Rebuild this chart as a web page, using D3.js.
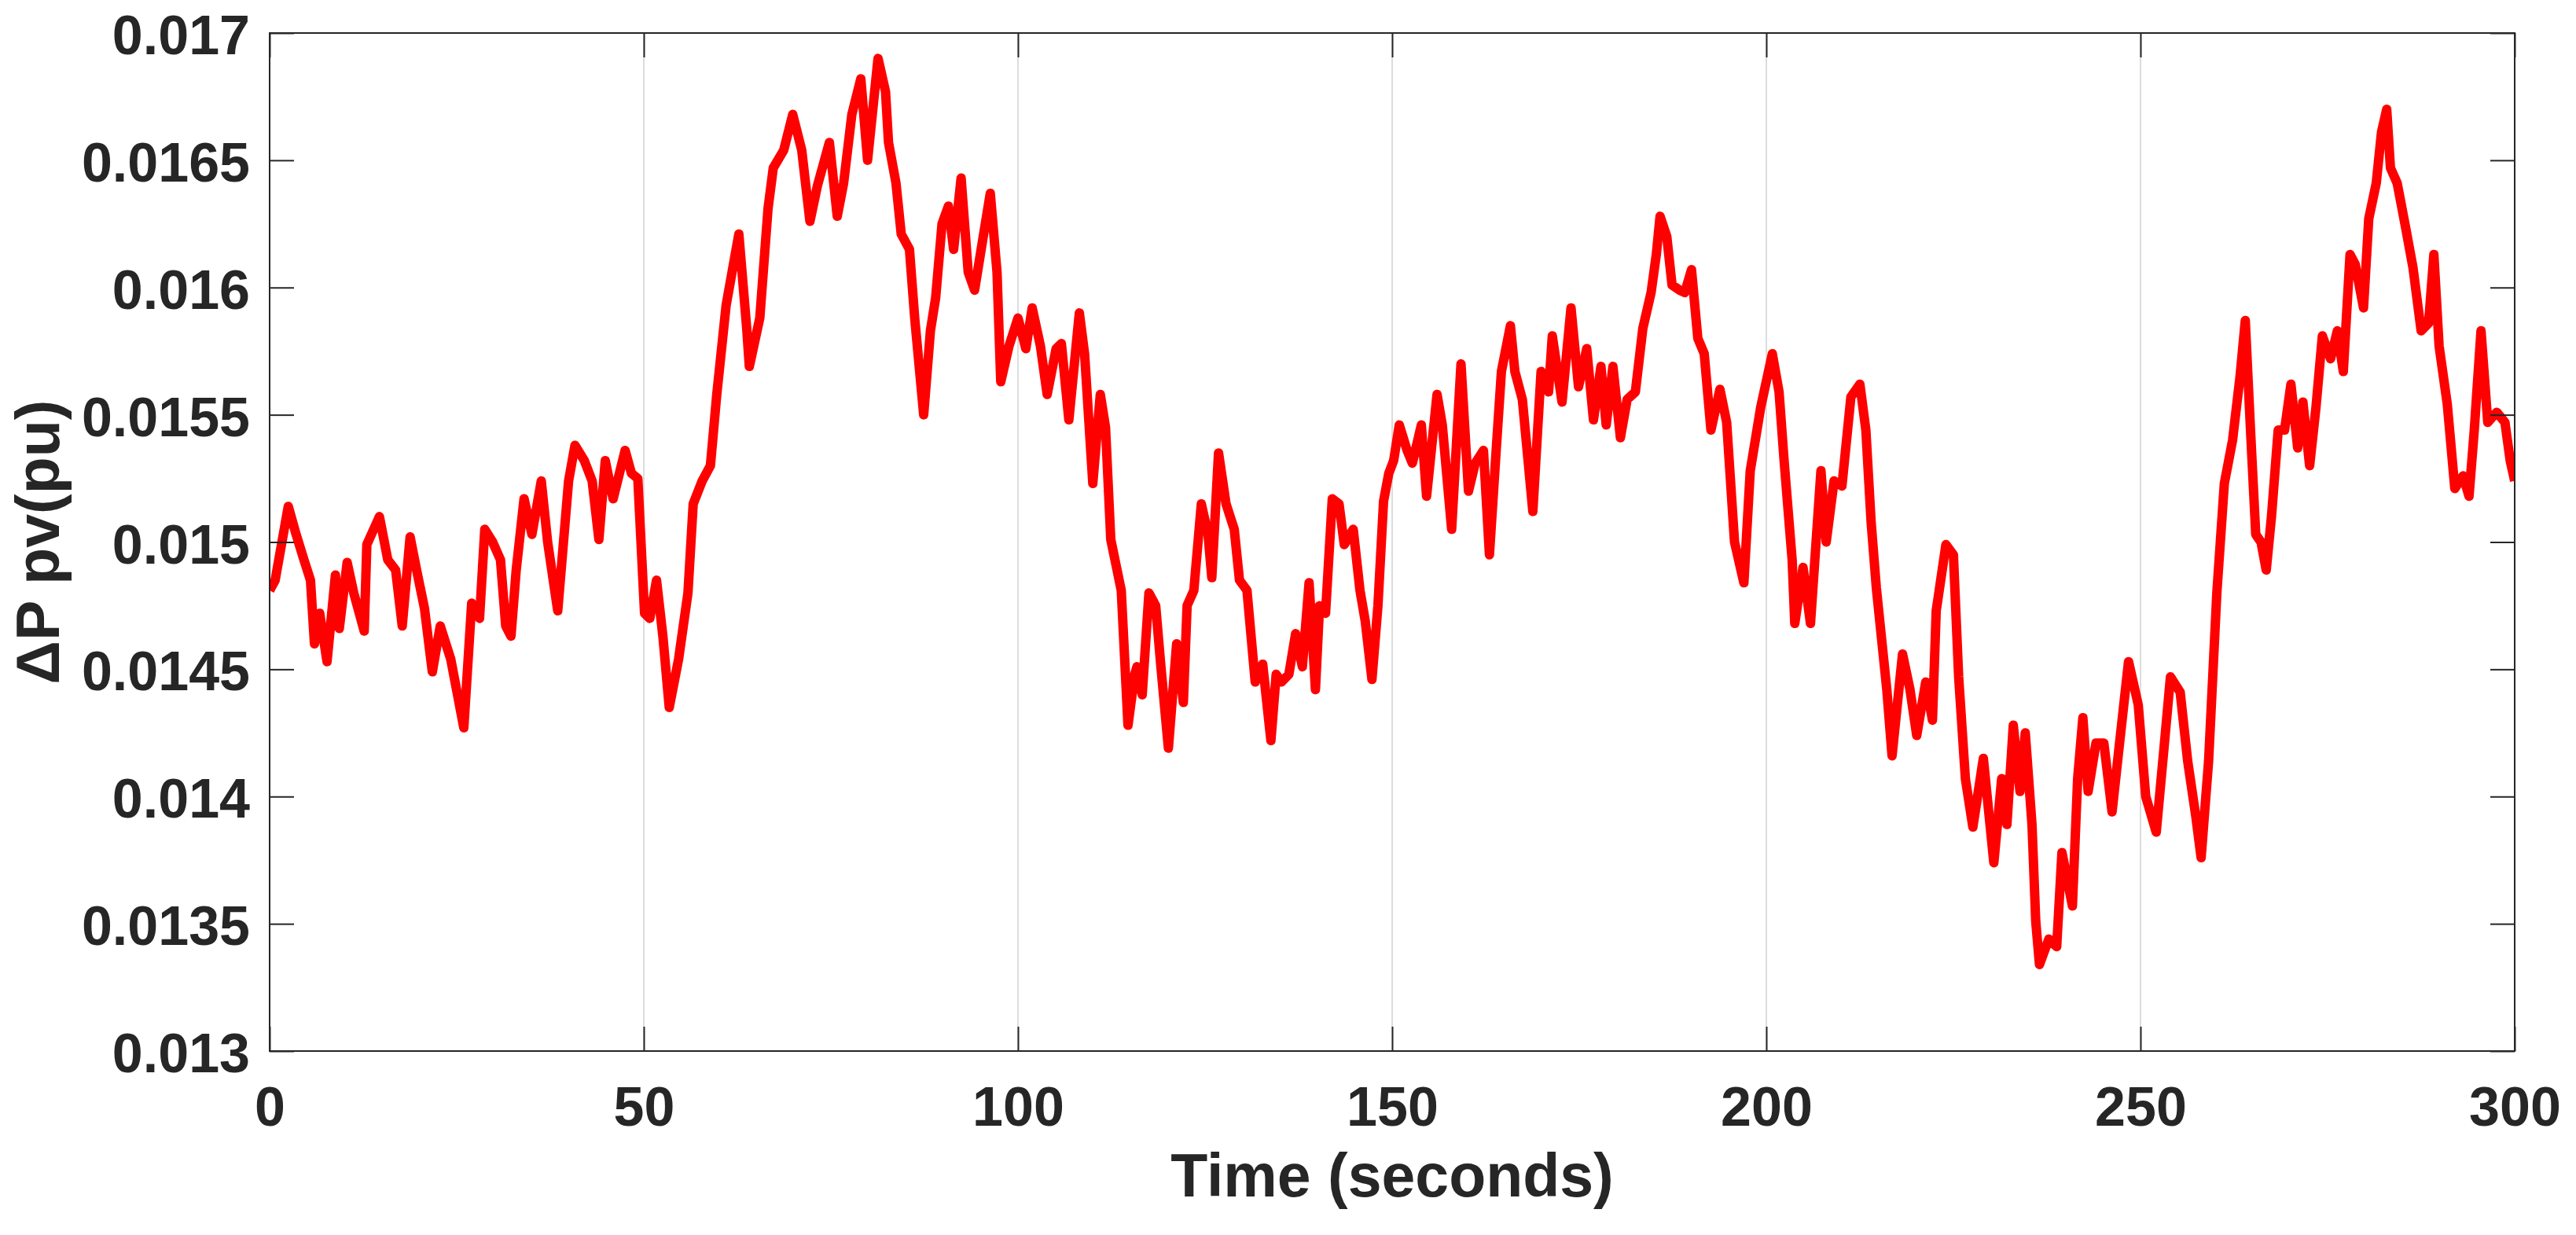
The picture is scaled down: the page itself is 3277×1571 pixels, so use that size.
<!DOCTYPE html>
<html>
<head>
<meta charset="utf-8">
<script src="https://cdn.jsdelivr.net/npm/d3@7"></script>
<style>
  html, body { margin: 0; padding: 0; background: #fff; }
  svg { display: block; }
  text { font-family: "Liberation Sans", Arial, sans-serif; font-weight: bold; fill: #262626; }
</style>
</head>
<body>
<div id="chart"></div>
<script>
// values (seconds, pu)
var time = [
  0, 0.74, 2.49, 3.54, 4.59, 5.46, 5.99, 6.69, 7.67, 8.79, 9.31, 10.36, 11.24, 12.64, 12.99, 14.67, 15.79, 16.84, 17.72, 18.77,
  19.64, 20.69, 21.74, 22.8, 24.2, 25.95, 27, 28.05, 28.75, 29.8, 30.85, 31.55, 32.25, 32.95, 34, 35.05, 36.3, 37.15, 38.5, 39.95,
  40.8, 42.05, 43.1, 44, 44.85, 45.9, 47.5, 48.35, 49.2, 50.1, 50.8, 51.7, 52.55, 53.4, 54.65, 55.9, 56.6, 57.8, 58.9, 59.75,
  61, 62.7, 63.75, 64.1, 65.5, 66.6, 67.3, 68.7, 69.9, 71.1, 72.2, 73.2, 74.8, 75.85, 76.7, 77.8, 79, 79.9, 81.3, 82.3,
  82.7, 83.7, 84.4, 85.5, 86.2, 87.4, 88.3, 89, 89.85, 90.7, 91.4, 92.4, 93.35, 94.2, 95.3, 96.3, 97.2, 97.7, 98.8, 100,
  101.05, 101.9, 103, 103.9, 105.1, 105.8, 106.8, 108.2, 108.9, 110, 111, 111.7, 112.4, 113.1, 113.8, 114.7, 115.6, 115.9, 116.6, 117.5,
  118.4, 119.1, 120.1, 121.2, 122.1, 122.6, 123.5, 124.5, 125.4, 125.9, 126.8, 127.8, 128.9, 129.6, 130.6, 131.7, 132.7, 133.8, 134.5, 135.2,
  136.2, 137.1, 138, 138.9, 139.75, 140.3, 141.1, 142, 142.9, 143.6, 144.8, 145.7, 146.4, 147.3, 148.1, 148.85, 149.55, 150.2, 150.95, 152,
  152.7, 153.9, 154.6, 156, 156.7, 157.95, 159.2, 160.2, 161.1, 162.2, 163, 163.9, 164.6, 165.8, 166.4, 167.4, 168.8, 169.9, 170.9, 171.4,
  172.7, 173.9, 174.9, 176, 176.9, 177.9, 178.6, 179.5, 180.5, 181.4, 182.5, 183.5, 184.6, 185.3, 185.8, 186.7, 187.4, 188.4, 189.1, 190,
  190.85, 191.7, 192.6, 193.8, 194.7, 195.75, 197, 197.85, 199.25, 200.8, 201.7, 202.4, 203.45, 203.8, 204.9, 205.9, 207.3, 208, 209.05, 210.1,
  211.3, 212.5, 213.3, 214, 214.7, 215.4, 216.1, 216.8, 218.2, 219.2, 220.1, 221.3, 222.2, 222.7, 224, 225, 225.7, 226.6, 227.6, 229,
  230.4, 231.45, 232.15, 233, 233.9, 234.6, 235.5, 236, 236.5, 237.75, 238.8, 239.5, 240.9, 241.6, 242.3, 243, 244.05, 245.1, 246.2, 247.2,
  248.4, 249.7, 250.7, 252.1, 253.2, 254, 255.3, 256.3, 257.4, 258.1, 259.1, 260.2, 261.2, 262.3, 263.3, 264, 264.7, 265.4, 266.1, 266.8,
  267.5, 268.4, 269.25, 270.1, 271, 271.7, 272.6, 273.45, 274.3, 275.4, 276.3, 277.1, 278, 278.7, 279.8, 280.5, 281.5, 282.2, 282.9, 283.4,
  284.3, 285.4, 286.4, 287.5, 288.5, 289.2, 289.9, 291, 292, 293.1, 293.9, 294.6, 295.5, 296.4, 297.6, 298.7, 299.4, 300
];
var dP = [
  0.01481, 0.01485, 0.01514, 0.01503, 0.01493, 0.01485, 0.0146, 0.01472, 0.01453, 0.01487, 0.01466, 0.01492, 0.0148, 0.01465, 0.01499, 0.0151, 0.01493, 0.01489, 0.01467, 0.01502,
  0.01489, 0.01474, 0.01449, 0.01467, 0.01454, 0.01427, 0.01476, 0.0147, 0.01505, 0.015, 0.01493, 0.01467, 0.01463, 0.01489, 0.01517, 0.01503, 0.01524, 0.015, 0.01473, 0.01524,
  0.01538, 0.01532, 0.01524, 0.01501, 0.01532, 0.01517, 0.01536, 0.01527, 0.01525, 0.01472, 0.0147, 0.01485, 0.01463, 0.01435, 0.01454, 0.0148, 0.01515, 0.01524, 0.0153, 0.01558,
  0.01593, 0.01621, 0.01584, 0.01569, 0.01588, 0.01631, 0.01647, 0.01654, 0.01668, 0.01654, 0.01626, 0.0164, 0.01657, 0.01628, 0.01641, 0.01668, 0.01682, 0.0165, 0.0169, 0.01677,
  0.01657, 0.01641, 0.01621, 0.01615, 0.01588, 0.0155, 0.01583, 0.01596, 0.01625, 0.01632, 0.01615, 0.01643, 0.01606, 0.01599, 0.01619, 0.01637, 0.01606, 0.01563, 0.01577, 0.01588,
  0.01576, 0.01592, 0.01577, 0.01558, 0.01576, 0.01578, 0.01548, 0.0159, 0.01574, 0.01523, 0.01558, 0.01545, 0.01501, 0.01491, 0.01481, 0.01428, 0.01448, 0.01451, 0.0144, 0.0148,
  0.01475, 0.01451, 0.01419, 0.0146, 0.01437, 0.01475, 0.01481, 0.01515, 0.01503, 0.01486, 0.01535, 0.01515, 0.01505, 0.01485, 0.01481, 0.01445, 0.01452, 0.01422, 0.01448, 0.01445,
  0.01448, 0.01464, 0.01451, 0.01484, 0.01442, 0.01475, 0.01472, 0.01517, 0.01515, 0.01499, 0.01505, 0.01481, 0.01469, 0.01446, 0.01475, 0.01516, 0.01527, 0.01532, 0.01546, 0.01536,
  0.01531, 0.01546, 0.01518, 0.01558, 0.01546, 0.01505, 0.0157, 0.0152, 0.01531, 0.01536, 0.01495, 0.01536, 0.01567, 0.01585, 0.01567, 0.01556, 0.01512, 0.01567, 0.01559, 0.01581,
  0.01555, 0.01592, 0.01561, 0.01576, 0.01548, 0.01569, 0.01546, 0.01569, 0.01541, 0.01556, 0.01559, 0.01584, 0.01598, 0.01613, 0.01628, 0.0162, 0.01601, 0.01599, 0.01598, 0.01607,
  0.0158, 0.01574, 0.01544, 0.0156, 0.01547, 0.015, 0.01484, 0.01528, 0.01553, 0.01574, 0.01559, 0.01531, 0.01493, 0.01468, 0.0149, 0.01468, 0.01528, 0.015, 0.01524, 0.01522,
  0.01557, 0.01562, 0.01544, 0.01508, 0.01482, 0.01462, 0.01442, 0.01416, 0.01456, 0.01442, 0.01424, 0.01445, 0.0143, 0.01473, 0.01499, 0.01495, 0.01447, 0.01407, 0.01388, 0.01415,
  0.01374, 0.01407, 0.01389, 0.01428, 0.01402, 0.01425, 0.01389, 0.01351, 0.01334, 0.01344, 0.01341, 0.01378, 0.01357, 0.01407, 0.01431, 0.01402, 0.01421, 0.01421, 0.01394, 0.01421,
  0.01453, 0.01436, 0.014, 0.01386, 0.01421, 0.01447, 0.01441, 0.01414, 0.01392, 0.01376, 0.01414, 0.0148, 0.01523, 0.0154, 0.01565, 0.01587, 0.01544, 0.01503, 0.015, 0.01489,
  0.0151, 0.01544, 0.01544, 0.01562, 0.01537, 0.01555, 0.0153, 0.01553, 0.01581, 0.01572, 0.01583, 0.01567, 0.01613, 0.01609, 0.01592, 0.01627, 0.01641, 0.01661, 0.0167, 0.01647,
  0.01641, 0.01624, 0.01608, 0.01583, 0.01586, 0.01613, 0.01577, 0.01554, 0.01521, 0.01526, 0.01518, 0.01544, 0.01583, 0.01547, 0.01551, 0.01547, 0.01532, 0.01524
];
var xTicks = [0, 50, 100, 150, 200, 250, 300];
var yTicks = [0.013, 0.0135, 0.014, 0.0145, 0.015, 0.0155, 0.016, 0.0165, 0.017];
var yTickLabels = ["0.013", "0.0135", "0.014", "0.0145", "0.015", "0.0155", "0.016", "0.0165", "0.017"];

var width = 3277, height = 1571,
    margin = {top: 42, right: 78, bottom: 234, left: 343},
    w = width - margin.left - margin.right,
    h = height - margin.top - margin.bottom,
    tickLen = 31;

var svg = d3.select("#chart").append("svg")
  .attr("width", width)
  .attr("height", height);

var g = svg.append("g")
  .attr("transform", "translate(" + margin.left + "," + margin.top + ")");

var x = d3.scaleLinear().domain([0, 300]).range([0, w]);
var y = d3.scaleLinear().domain([0.013, 0.017]).range([h, 0]);

// vertical grid
g.append("g").selectAll("line")
  .data(xTicks.slice(1, -1))
  .enter().append("line")
  .attr("x1", function(d){ return x(d); })
  .attr("x2", function(d){ return x(d); })
  .attr("y1", 0).attr("y2", h)
  .attr("stroke", "#dcdcdc")
  .attr("stroke-width", 2);

g.append("clipPath").attr("id", "clip")
  .append("rect").attr("width", w).attr("height", h);

var pts = time.map(function(t, i){ return [t, dP[i]]; });

var line = d3.line()
  .x(function(d){ return x(d[0]); })
  .y(function(d){ return y(d[1]); });

g.append("path")
  .datum(pts)
  .attr("clip-path", "url(#clip)")
  .attr("fill", "none")
  .attr("stroke", "#ff0000")
  .attr("stroke-width", 12)
  .attr("stroke-linejoin", "round")
  .attr("d", line);

// axes, ticks pointing inwards on all four sides
function styleAxis(sel) {
  sel.select(".domain").remove();
  sel.selectAll(".tick line").attr("stroke", "#262626").attr("stroke-width", 2);
  sel.selectAll(".tick text").style("font-size", "70px").attr("fill", "#262626");
}

g.append("g")
  .attr("transform", "translate(0," + h + ")")
  .call(d3.axisBottom(x).tickValues(xTicks).tickSizeInner(-tickLen).tickSizeOuter(0).tickPadding(45))
  .call(styleAxis);

g.append("g")
  .call(d3.axisTop(x).tickValues(xTicks).tickSizeInner(-tickLen).tickSizeOuter(0).tickFormat(""))
  .call(styleAxis);

g.append("g")
  .call(d3.axisLeft(y).tickValues(yTicks).tickSizeInner(-tickLen).tickSizeOuter(0).tickPadding(25)
    .tickFormat(function(d, i){ return yTickLabels[i]; }))
  .call(styleAxis)
  .selectAll(".tick text").attr("dy", "0.38em");

g.append("g")
  .attr("transform", "translate(" + w + ",0)")
  .call(d3.axisRight(y).tickValues(yTicks).tickSizeInner(-tickLen).tickSizeOuter(0).tickFormat(""))
  .call(styleAxis);

g.append("rect")
  .attr("width", w).attr("height", h)
  .attr("fill", "none")
  .attr("stroke", "#262626")
  .attr("stroke-width", 2);

// axis titles
svg.append("text")
  .attr("x", margin.left + w / 2)
  .attr("y", 1522)
  .attr("text-anchor", "middle")
  .style("font-size", "77px")
  .text("Time (seconds)");

svg.append("text")
  .attr("transform", "translate(75," + (margin.top + h / 2) + ") rotate(-90)")
  .attr("text-anchor", "middle")
  .style("font-size", "77px")
  .text("ΔP pv(pu)");
</script>
</body>
</html>
